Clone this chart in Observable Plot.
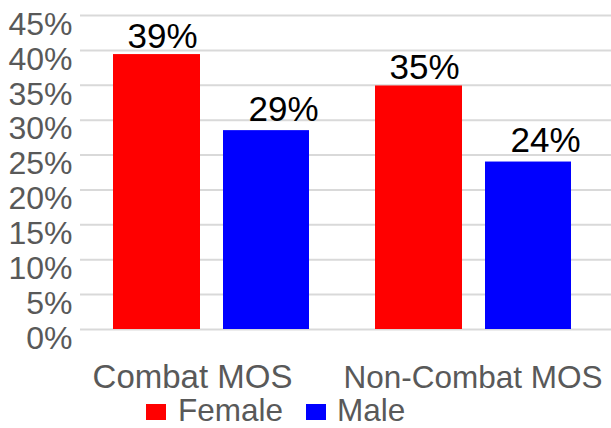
<!DOCTYPE html>
<html>
<head>
<meta charset="utf-8">
<script src="https://cdn.jsdelivr.net/npm/d3@7"></script>
<script src="https://cdn.jsdelivr.net/npm/@observablehq/plot@0.6"></script>
<style>
  html, body { margin: 0; padding: 0; background: #fff; }
  #wrap { position: relative; width: 611px; height: 428px; font-family: "Liberation Sans", Arial, sans-serif; }
  #chart { position: absolute; left: 0; top: 0; }
  #legend { position: absolute; left: 0; top: 392px; width: 611px; height: 36px; }
  .sw { position: absolute; width: 20px; height: 16px; top: 12px; }
  .lt { position: absolute; top: 0px; font-size: 31.5px; line-height: 36px; color: #595959; white-space: nowrap; }
</style>
</head>
<body>
<div id="wrap">
  <div id="chart"></div>
  <div id="legend"></div>
</div>
<script>
const categories = ["Combat MOS", "Non-Combat MOS"];
const seriesNames = ["Female", "Male"];
const seriesColors = ["#ff0000", "#0000ff"];
const femaleValues = [39.4, 34.9];
const maleValues = [28.5, 24.0];
const femaleLabels = ["39%", "35%"];
const maleLabels = ["29%", "24%"];
const yTicks = [0, 5, 10, 15, 20, 25, 30, 35, 40, 45];

const femaleRows = categories.map((c, i) => ({category: c, value: femaleValues[i], label: femaleLabels[i]}));
const maleRows = categories.map((c, i) => ({category: c, value: maleValues[i], label: maleLabels[i]}));

const font = "\"Liberation Sans\", Arial, sans-serif";
const gray = "#595959";

const chart = Plot.plot({
  width: 611,
  height: 398,
  marginLeft: 80,
  marginRight: 0,
  marginTop: 15,
  marginBottom: 69,
  style: {fontFamily: font, fontSize: "32px", background: "transparent"},
  x: {domain: categories, range: [81, 605], padding: 0, axis: null},
  y: {domain: [0, 45], axis: null},
  marks: [
    Plot.ruleY(yTicks, {stroke: "#d9d9d9", strokeWidth: 2}),
    Plot.barY(femaleRows, {x: "category", y: "value", fill: seriesColors[0], insetLeft: 32, insetRight: 143}),
    Plot.barY(maleRows, {x: "category", y: "value", fill: seriesColors[1], insetLeft: 142, insetRight: 34}),
    Plot.text(femaleRows, {x: "category", y: "value", text: "label", dx: -50, dy: -7, lineAnchor: "bottom", fontSize: 35, fill: "#000"}),
    Plot.text(maleRows, {x: "category", y: "value", text: "label", dx: 71, dy: -10, lineAnchor: "bottom", fontSize: 35, fill: "#000"}),
    Plot.axisY(yTicks, {tickSize: 0, tickPadding: 8, dy: 9, tickFormat: d => d + "%", fontSize: 32, color: gray, label: null}),
    Plot.axisX([categories[0]], {tickSize: 0, tickPadding: 35, dx: -20, fontSize: 33, color: gray, label: null}),
    Plot.axisX([categories[1]], {tickSize: 0, tickPadding: 36, dx: -1.5, fontSize: 31.5, color: gray, label: null})
  ]
});
document.getElementById("chart").appendChild(chart);

const legend = document.getElementById("legend");
const swatchX = [146, 306];
const textX = [178, 337];
seriesNames.forEach((name, i) => {
  const sw = document.createElement("div");
  sw.className = "sw";
  sw.style.left = swatchX[i] + "px";
  sw.style.background = seriesColors[i];
  legend.appendChild(sw);
  const t = document.createElement("div");
  t.className = "lt";
  t.style.left = textX[i] + "px";
  t.textContent = name;
  legend.appendChild(t);
});
</script>
</body>
</html>
